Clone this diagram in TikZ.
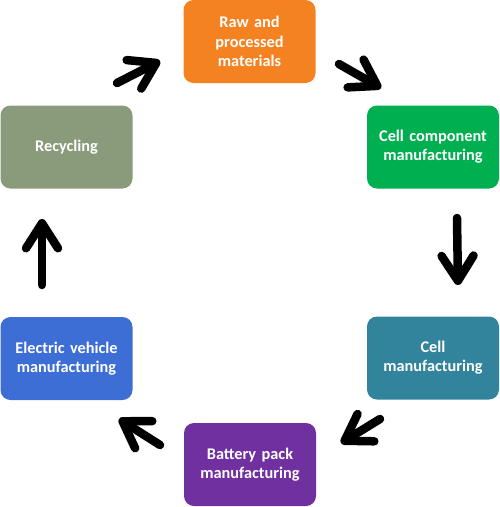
\documentclass[tikz,border=0pt]{standalone}
\usepackage{fontspec}
\setmainfont{Carlito}
\usetikzlibrary{arrows.meta}
\definecolor{cOrange}{HTML}{F58220}
\definecolor{cGreen}{HTML}{00B050}
\definecolor{cTeal}{HTML}{31849B}
\definecolor{cPurple}{HTML}{7030A0}
\definecolor{cBlue}{HTML}{3D6ED6}
\definecolor{cSage}{HTML}{8A9B7B}
\tikzset{
  stagebox/.style={rectangle, rounded corners=10pt, minimum width=132pt, minimum height=83pt,
    text width=128pt, align=center, text=white, inner sep=0pt,
    font=\fontsize{16.3pt}{19.3pt}\selectfont\bfseries},
  flowarrow/.style={line width=8.5pt, line cap=round, black,
    -{Straight Barb[length=25pt, width=32pt, round]}}
}
\begin{document}
\begin{tikzpicture}[x=1pt,y=-1pt]
\useasboundingbox (0,0) rectangle (500,507);
\node[stagebox, fill=cOrange] (raw) at (249.5,41.5) {Raw and\\processed\\materials};
\node[stagebox, fill=cGreen] (comp) at (433,147) {Cell component\\manufacturing};
\node[stagebox, fill=cTeal] (cell) at (433,358) {Cell\\manufacturing};
\node[stagebox, fill=cPurple] (pack) at (250,464.5) {Battery pack\\manufacturing};
\node[stagebox, fill=cBlue] (ev) at (66.5,358.5) {Electric vehicle\\manufacturing};
\node[stagebox, fill=cSage] (rec) at (66.5,147) {Recycling};
\coordinate (a1s) at (117,83);
\coordinate (a1e) at (160,61);
\coordinate (a2s) at (339,64);
\coordinate (a2e) at (381,88);
\coordinate (a3s) at (457,218);
\coordinate (a3e) at (458,285);
\coordinate (a4s) at (380,419);
\coordinate (a4e) at (341,443);
\coordinate (a5s) at (160,445);
\coordinate (a5e) at (119,419);
\coordinate (a6s) at (42,285);
\coordinate (a6e) at (42,219);
\draw[flowarrow] (a1s) -- (a1e);
\draw[flowarrow] (a2s) -- (a2e);
\draw[flowarrow] (a3s) -- (a3e);
\draw[flowarrow] (a4s) -- (a4e);
\draw[flowarrow] (a5s) -- (a5e);
\draw[flowarrow] (a6s) -- (a6e);
\end{tikzpicture}
\end{document}
